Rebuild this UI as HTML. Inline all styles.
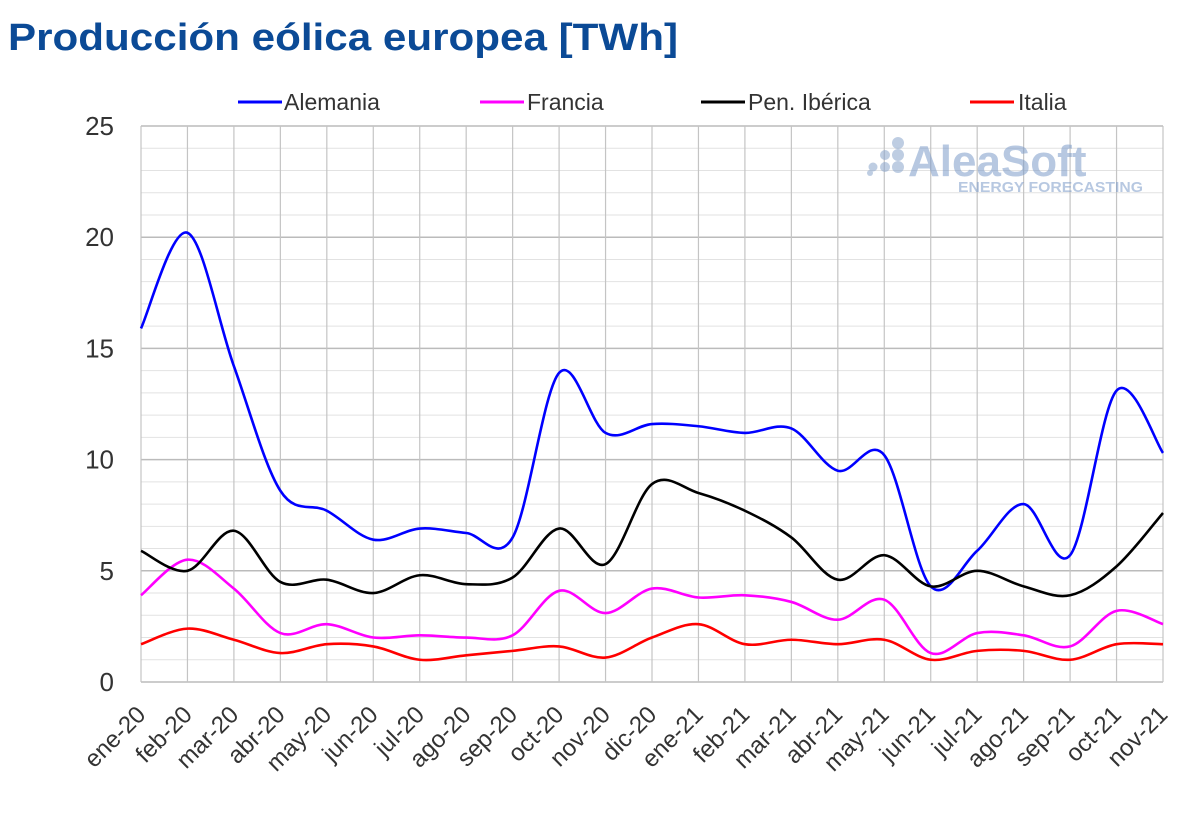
<!DOCTYPE html>
<html><head><meta charset="utf-8"><style>
html,body{margin:0;padding:0;background:#fff;width:1200px;height:836px;overflow:hidden}
svg{display:block;font-family:"Liberation Sans",sans-serif}
</style></head><body>
<svg id="s" width="1200" height="836" viewBox="0 0 1200 836">
<text x="8" y="50" font-size="38" font-weight="bold" fill="#0b4a96" textLength="670" lengthAdjust="spacingAndGlyphs">Producción eólica europea [TWh]</text>
<g font-size="23" fill="#333">
<line x1="238" y1="102" x2="282" y2="102" stroke="#0000ff" stroke-width="3"/><text x="284" y="110">Alemania</text>
<line x1="480" y1="102" x2="524" y2="102" stroke="#ff00ff" stroke-width="3"/><text x="527" y="110">Francia</text>
<line x1="701" y1="102" x2="745" y2="102" stroke="#000" stroke-width="3"/><text x="748" y="110">Pen. Ibérica</text>
<line x1="970" y1="102" x2="1014" y2="102" stroke="#ff0000" stroke-width="3"/><text x="1018" y="110">Italia</text>
</g>
<g id="grid"></g>
<g opacity="0.55" fill="#8aa5cc">
<circle cx="898" cy="143" r="6"/><circle cx="885" cy="155" r="5"/><circle cx="898" cy="155" r="6"/>
<circle cx="873" cy="167" r="4.5"/><circle cx="885" cy="167" r="5"/><circle cx="898" cy="167" r="6"/>
<circle cx="870" cy="173" r="3"/>
<text x="908" y="176" font-size="44" font-weight="bold" fill="#7d9cc9">AleaSoft</text>
<text x="958" y="192" font-size="15" font-weight="bold" fill="#7d9cc9" textLength="185" lengthAdjust="spacingAndGlyphs">ENERGY FORECASTING</text>
</g>
<g id="series"></g>
<g id="labels" font-size="24" fill="#333"></g>
</svg>
<script>
var X0=141,DX=(1163-141)/22,Y0=682,DY=(682-126)/25;
var g=document.getElementById('grid'),h='';
for(var v=0;v<=25;v++){var y=Y0-v*DY;h+='<line x1="141" x2="1163" y1="'+y+'" y2="'+y+'" stroke="'+(v%5==0?'#bbb':'#e2e2e2')+'" stroke-width="'+(v%5==0?1.5:1)+'"/>';}
for(var i=0;i<23;i++){var x=X0+i*DX;h+='<line y1="126" y2="682" x1="'+x+'" x2="'+x+'" stroke="#c4c4c4" stroke-width="1.2"/>';}
g.innerHTML=h;
var yl='';
for(var v=0;v<=25;v+=5){yl+='<text x="114" y="'+(Y0-v*DY+9)+'" text-anchor="end" font-size="26">'+v+'</text>';}
var m=['ene-20','feb-20','mar-20','abr-20','may-20','jun-20','jul-20','ago-20','sep-20','oct-20','nov-20','dic-20','ene-21','feb-21','mar-21','abr-21','may-21','jun-21','jul-21','ago-21','sep-21','oct-21','nov-21'];
for(var i=0;i<23;i++){var x=X0+i*DX+6;yl+='<text transform="translate('+x+',716) rotate(-45)" text-anchor="end">'+m[i]+'</text>';}
document.getElementById('labels').innerHTML=yl;
var D={
'#0000ff':[15.9,20.2,14.2,8.6,7.7,6.4,6.9,6.7,6.5,13.9,11.2,11.6,11.5,11.2,11.4,9.5,10.2,4.3,5.9,8.0,5.7,13.1,10.3],
'#ff00ff':[3.9,5.5,4.2,2.2,2.6,2.0,2.1,2.0,2.1,4.1,3.1,4.2,3.8,3.9,3.6,2.8,3.7,1.3,2.2,2.1,1.6,3.2,2.6],
'#000000':[5.9,5.0,6.8,4.5,4.6,4.0,4.8,4.4,4.7,6.9,5.3,8.9,8.5,7.7,6.5,4.6,5.7,4.3,5.0,4.3,3.9,5.2,7.6],
'#ff0000':[1.7,2.4,1.9,1.3,1.7,1.6,1.0,1.2,1.4,1.6,1.1,2.0,2.6,1.7,1.9,1.7,1.9,1.0,1.4,1.4,1.0,1.7,1.7]};
var s='';
for(var c in D){var d=D[c],p=d.map(function(v,i){return [X0+i*DX,Y0-v*DY]});
var str='M'+p[0][0]+','+p[0][1];
for(var i=0;i<p.length-1;i++){var a=p[Math.max(i-1,0)],b=p[i],e=p[i+1],f=p[Math.min(i+2,p.length-1)],t=6;
str+=' C'+(b[0]+(e[0]-a[0])/t)+','+(b[1]+(e[1]-a[1])/t)+' '+(e[0]-(f[0]-b[0])/t)+','+(e[1]-(f[1]-b[1])/t)+' '+e[0]+','+e[1];}
s+='<path d="'+str+'" fill="none" stroke="'+c+'" stroke-width="2.6"/>';}
document.getElementById('series').innerHTML=s;
</script>
</body></html>
